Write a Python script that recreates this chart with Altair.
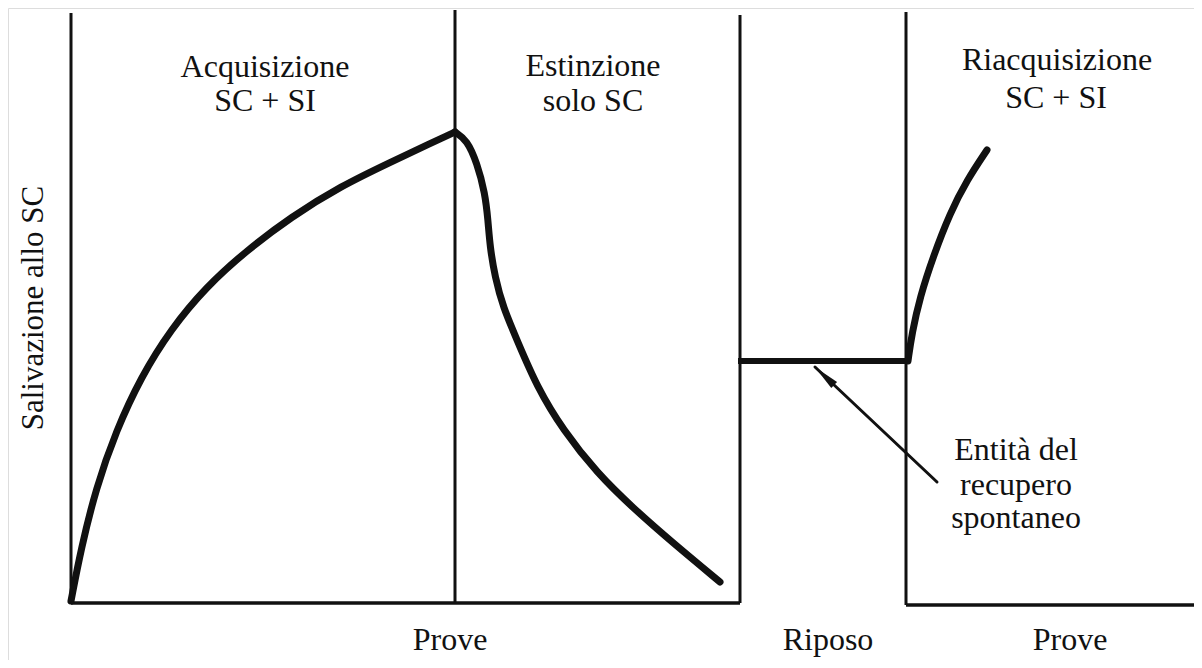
import altair as alt
import pandas as pd

# ---- data (x: position along trials, y: salivation to the CS, arbitrary units) ----
acq_x = [0, 10, 25, 45, 70, 100, 135, 175, 220, 270, 320, 360, 384]
acq_y = [2, 54, 115, 172, 226, 274, 316, 352, 386, 417, 441, 460, 471]
ext_x = [384, 396, 406, 414, 417, 419, 424, 432, 446, 466, 492, 526, 562, 602, 649]
ext_y = [471, 463, 440, 410, 383, 356, 326, 296, 263, 216, 173, 130, 95, 60, 21]
rest_x = [667, 837]
rest_y = [242, 242]
reacq_x = [837, 841, 849, 862, 879, 896, 916]
reacq_y = [242, 270, 306, 346, 390, 423, 453]

# frame lines (vertical phase separators and baselines)
vline_x = [0, 384, 669, 835]
vline_y0 = [0, 0, 0, -2]
vline_y1 = [590, 593, 588, 591]
hline_x0 = [0, 835]
hline_x1 = [669, 1123]
hline_y = [0, -2]

# labels
top_text = ["Acquisizione", "SC + SI", "Estinzione", "solo SC",
            "Riacquisizione", "SC + SI",
            "Entità del", "recupero", "spontaneo"]
top_x = [194, 194, 522, 522, 986, 985, 945, 945, 945]
top_y = [536, 502, 537, 502, 543, 505, 153, 118, 85]
bottom_text = ["Prove", "Riposo", "Prove"]
bottom_x = [379, 757, 999]
bottom_y = [-47, -47, -47]
y_title = "Salivazione allo SC"

# annotation arrow (tail -> tip)
arrow_x = [866, 744]
arrow_y = [121, 236]

XD = [-63, 1123]
YD = [-57, 595]
FONT = "Liberation Serif"
INK = "#111111"

xs = alt.Scale(domain=XD, nice=False, zero=False)
ys = alt.Scale(domain=YD, nice=False, zero=False)

curves = pd.DataFrame(
    [{"s": "acq", "i": i, "x": a, "y": b} for i, (a, b) in enumerate(zip(acq_x, acq_y))]
    + [{"s": "ext", "i": i, "x": a, "y": b} for i, (a, b) in enumerate(zip(ext_x, ext_y))]
    + [{"s": "reacq", "i": i, "x": a, "y": b} for i, (a, b) in enumerate(zip(reacq_x, reacq_y))]
)
rest = pd.DataFrame({"x": rest_x, "y": rest_y})
vlines = pd.DataFrame({"x": vline_x, "y": vline_y0, "y2": vline_y1})
hlines = pd.DataFrame({"x": hline_x0, "x2": hline_x1, "y": hline_y})
tops = pd.DataFrame({"t": top_text, "x": top_x, "y": top_y})
bottoms = pd.DataFrame({"t": bottom_text, "x": bottom_x, "y": bottom_y})
ytitle = pd.DataFrame({"t": [y_title], "x": [-37], "y": [295]})
arrow = pd.DataFrame({"x": [arrow_x[0]], "y": [arrow_y[0]], "x2": [arrow_x[1]], "y2": [arrow_y[1]]})
head = pd.DataFrame({"x": [753.5], "y": [227]})

X = lambda f="x": alt.X(f"{f}:Q", scale=xs, axis=None)
Y = lambda f="y": alt.Y(f"{f}:Q", scale=ys, axis=None)

v = alt.Chart(vlines).mark_rule(color=INK, strokeWidth=3).encode(
    x=X(), y=Y(), y2="y2:Q")
h = alt.Chart(hlines).mark_rule(color=INK, strokeWidth=3.5).encode(
    x=X(), x2="x2:Q", y=Y())

curve = alt.Chart(curves).mark_line(
    color=INK, strokeWidth=7, interpolate="basis", strokeCap="round", strokeJoin="round"
).encode(x=X(), y=Y(), detail="s:N", order="i:Q")

rest_line = alt.Chart(rest).mark_line(color=INK, strokeWidth=6).encode(x=X(), y=Y())

arr = alt.Chart(arrow).mark_rule(color=INK, strokeWidth=3, strokeCap="round").encode(
    x=X(), y=Y(), x2="x2:Q", y2="y2:Q")
arrhead = alt.Chart(head).mark_point(
    shape="M0,-1L0.32,1L-0.32,1Z", filled=True, color=INK, opacity=1,
    size=700, angle=313
).encode(x=X(), y=Y())

txt = alt.Chart(tops).mark_text(
    font=FONT, fontSize=32, color=INK, align="center", baseline="middle"
).encode(x=X(), y=Y(), text="t:N")

btxt = alt.Chart(bottoms).mark_text(
    font=FONT, fontSize=32, color=INK, align="center", baseline="alphabetic"
).encode(x=X(), y=Y(), text="t:N")

ytxt = alt.Chart(ytitle).mark_text(
    font=FONT, fontSize=31, color=INK, align="center", baseline="middle", angle=270
).encode(x=X(), y=Y(), text="t:N")

chart = alt.layer(v, h, curve, rest_line, arr, arrhead, txt, btxt, ytxt).properties(
    width=1186, height=652, autosize="none", padding=0
).configure_view(stroke=None).configure(background="white")

chart.save("out.html", embed_options={"renderer": "svg", "actions": False})
